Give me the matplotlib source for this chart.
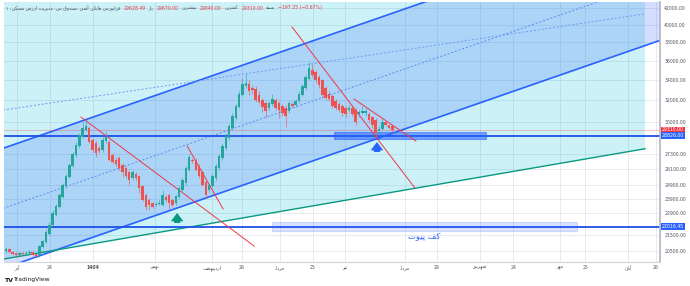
import matplotlib
matplotlib.use('Agg')
import matplotlib.pyplot as plt
from matplotlib.patches import Rectangle
from matplotlib.ticker import NullLocator

# Heikin Ashi candles, one per trading day
opens = [20480, 20600, 20420, 20350, 20230, 20350, 20290, 20350, 20420, 20290,
         20230, 20720, 21030, 21530, 22110, 22780, 23320, 24030, 24820, 25490,
         26340, 27210, 27950, 28700, 29300, 29480, 28450, 28200, 27790, 27620,
         28370, 28280, 27210, 26810, 26970, 26420, 26190, 25870, 25420, 25720,
         25570, 24820, 24170, 23810, 23600, 23460, 23530, 23460, 24030, 24170,
         23810, 23600, 24030, 24530, 25040, 26030, 26810, 26810, 26340, 25870,
         25120, 24530, 24820, 25420, 26190, 26970, 27790, 28620, 29480, 30360,
         31370, 32500, 33380, 33580, 33190, 33090, 32500, 32030, 31750, 31280,
         31650, 32030, 31750, 31470, 31280, 31000, 31650, 31560, 31940, 32500,
         33190, 34080, 35000, 34800, 34290, 33980, 33190, 32600, 32410, 31940,
         31650, 31470, 31280, 31090, 31280, 31090, 30720, 30820, 30820, 30720,
         30450, 30180, 29210, 29390, 30000, 29740, 29628.49]
closes = [20600, 20420, 20290, 20230, 20350, 20290, 20350, 20420, 20230, 20170,
          20780, 21090, 21660, 22110, 22920, 23390, 24170, 24890, 25570, 26420,
          27290, 28030, 28870, 29480, 29650, 28280, 27620, 27370, 27540, 28450,
          28700, 26810, 26650, 26500, 26190, 25870, 25570, 25270, 25870, 25420,
          24680, 23810, 23320, 23460, 23320, 23530, 23600, 24170, 23810, 23600,
          23460, 24100, 24680, 25270, 26190, 27050, 26730, 26030, 25570, 24890,
          24170, 24890, 25570, 26340, 27130, 27950, 28790, 29650, 30540, 31470,
          32600, 33580, 33680, 32890, 32990, 32030, 31840, 31370, 31000, 31750,
          32120, 31280, 31090, 30820, 30540, 31750, 31470, 31940, 32600, 33380,
          34290, 35210, 34490, 33980, 33480, 32500, 32220, 32120, 31470, 31280,
          31090, 30820, 30720, 31280, 30720, 30000, 30910, 31000, 31000, 30180,
          29740, 29040, 29390, 30000, 29740, 29507, 29310]
highs = [20720, 20660, 20480, 20420, 20420, 20420, 20480, 20540, 20480, 20350,
         20840, 21150, 21850, 22310, 23120, 23530, 24310, 25040, 25720, 26580,
         27460, 28280, 29040, 30000, 30270, 29650, 28620, 28370, 27950, 28700,
         29210, 28450, 27370, 27050, 27130, 26580, 26340, 26030, 26030, 25870,
         25640, 24890, 24310, 23960, 23670, 23670, 23810, 24530, 24170, 24310,
         23960, 24170, 24820, 25420, 26340, 27290, 26970, 26970, 26500, 26030,
         25270, 25040, 25720, 26500, 27290, 28200, 29040, 29830, 30820, 31650,
         32890, 34180, 34690, 33980, 33480, 33380, 32890, 32220, 31940, 31940,
         32600, 32220, 31940, 31650, 31560, 31940, 31840, 32120, 32890, 33580,
         34490, 35850, 35640, 35000, 34490, 34080, 33380, 32890, 32600, 32120,
         31840, 31650, 31470, 31560, 31470, 31280, 31090, 31470, 31280, 30910,
         30540, 30360, 29650, 30270, 30090, 29830, 29670]
lows = [20350, 20350, 20230, 20110, 20170, 20230, 20230, 20290, 20170, 20110,
        20110, 20660, 20970, 21470, 22050, 22710, 23260, 23960, 24680, 25420,
        26260, 27050, 27790, 28620, 29210, 28200, 27460, 27050, 27370, 27460,
        28200, 26730, 26500, 26340, 26030, 25490, 25420, 24890, 25270, 25190,
        24310, 23740, 23120, 23120, 23260, 23390, 23460, 23390, 23670, 23190,
        23320, 23460, 23960, 24390, 24890, 25950, 26580, 25950, 25420, 24820,
        23960, 24390, 24750, 25270, 26030, 26810, 27620, 28450, 29300, 30180,
        31280, 32410, 33190, 32500, 32600, 31840, 31650, 30910, 30450, 31090,
        31470, 31090, 30360, 30540, 29570, 30820, 31280, 31370, 31750, 32410,
        32990, 33980, 34290, 33680, 33190, 32220, 32030, 31940, 31280, 31090,
        30910, 30540, 30450, 30910, 30540, 29740, 30450, 30720, 30540, 30000,
        29480, 28700, 29040, 29300, 29650, 29390, 29040]

price_ticks = [42000, 40000, 38000, 36000, 34000, 32000, 30000,
               27300, 26100, 24900, 23900, 22900, 21500, 20500]
date_pos = [3.3, 13.2, 26.1, 44.7, 61.9, 70.9, 82.3, 92.2, 101.8,
            119.8, 129.4, 142.3, 152.3, 166.4, 173.9, 186.8, 195.2]
date_labels = ['آذر', '24', '1404', 'بهمن', 'اردیبهشت', '26', 'خرداد', '25', 'تیر',
               'مرداد', '26', 'شهریور', '24', 'مهر', '25', 'آبان', '26']

last_close = 29310.00
support_level = 28826.00
pivot_level = 22016.45

# drawings anchored on (bar, price)
channel_x = [-2, 200]
channel_up = [27650, 55210]
channel_lo = [19370, 38690]
channel_mid = [23140, 46220]
base_x = [-2, 191.9]
base_line = [19950, 27720]
base_mid = [31030, 41340]
red_lines = [([22.5, 74.5], [30450, 20780]),
             ([54.4, 65.2], [27950, 23190]),
             ([85.9, 122.8], [39760, 24680]),
             ([104.5, 123.1], [32120, 28360])]
zone_box = (98.5, 144.1, 28530, 29130)
pivot_box = (79.9, 171.5, 21720, 22310)
arrows = [(51.4, 22250, 22920, '#089981'), (111.4, 27460, 28280, '#2962ff')]

# Persian letter forms: isolated, final, initial, medial
AR = {'ا': (0xFE8D, 0xFE8E), 'آ': (0xFE81, 0xFE82), 'د': (0xFEA9, 0xFEAA),
      'ذ': (0xFEAB, 0xFEAC), 'ر': (0xFEAD, 0xFEAE), 'ز': (0xFEAF, 0xFEB0),
      'و': (0xFEED, 0xFEEE),
      'ب': (0xFE8F, 0xFE90, 0xFE91, 0xFE92), 'پ': (0xFB56, 0xFB57, 0xFB58, 0xFB59),
      'ت': (0xFE95, 0xFE96, 0xFE97, 0xFE98), 'خ': (0xFEA5, 0xFEA6, 0xFEA7, 0xFEA8),
      'س': (0xFEB1, 0xFEB2, 0xFEB3, 0xFEB4), 'ش': (0xFEB5, 0xFEB6, 0xFEB7, 0xFEB8),
      'ص': (0xFEB9, 0xFEBA, 0xFEBB, 0xFEBC), 'ف': (0xFED1, 0xFED2, 0xFED3, 0xFED4),
      'ق': (0xFED5, 0xFED6, 0xFED7, 0xFED8), 'ک': (0xFB8E, 0xFB8F, 0xFB90, 0xFB91),
      'م': (0xFEE1, 0xFEE2, 0xFEE3, 0xFEE4), 'ن': (0xFEE5, 0xFEE6, 0xFEE7, 0xFEE8),
      'ه': (0xFEE9, 0xFEEA, 0xFEEB, 0xFEEC), 'ی': (0xFBFC, 0xFBFD, 0xFBFE, 0xFBFF)}


def fa(s):
    # shape and reverse Persian words so they read right to left
    if not any(ch in AR for ch in s):
        return s
    out = []
    for i, ch in enumerate(s):
        f = AR.get(ch)
        if f is None:
            out.append(ch)
            continue
        prev = AR.get(s[i - 1]) if i > 0 else None
        nxt = AR.get(s[i + 1]) if i + 1 < len(s) else None
        jp = prev is not None and len(prev) == 4
        jn = nxt is not None and len(f) == 4
        k = 3 if (jp and jn) else 1 if jp else 2 if jn else 0
        out.append(chr(f[k]))
    return ''.join(reversed(out))


plt.rcParams['font.family'] = ['DejaVu Sans']

fig = plt.figure(figsize=(6.9, 2.86), dpi=100)
ax = fig.add_axes([4 / 690, 24 / 286, 656 / 690, 260 / 286])
ax.set_yscale('log')
ax.set_xlim(-0.6, 196.4)
ax.set_ylim(19820, 42816)
ax.set_axisbelow(True)

# background channels
ax.fill_between(base_x, base_line, 60000, color='#00bcd4', alpha=0.2, lw=0, zorder=1)
ax.fill_between(channel_x, channel_lo, channel_up, color='#2962ff', alpha=0.2, lw=0, zorder=1.1)
ax.plot(channel_x, channel_up, color='#2962ff', lw=1.2, zorder=2)
ax.plot(channel_x, channel_lo, color='#2962ff', lw=1.2, zorder=2)
ax.plot(channel_x, channel_mid, color='#5b8af5', lw=0.7, dashes=(2, 2), zorder=2)
ax.plot(base_x, base_line, color='#089981', lw=1.0, zorder=2)
ax.plot(base_x, base_mid, color='#6f9cf5', lw=0.7, dashes=(2, 2), zorder=2)

# levels and zones
ax.axhline(last_close, color='#f23645', lw=0.6, alpha=0.35, zorder=2)
ax.axhline(support_level, color='#1e50e6', lw=1.3, zorder=2)
ax.axhline(pivot_level, color='#1e50e6', lw=1.3, zorder=2)
x0, x1, y0, y1 = zone_box
ax.add_patch(Rectangle((x0, y0), x1 - x0, y1 - y0, fc='#2962ff', ec='#2962ff',
                       alpha=0.55, lw=0.8, zorder=2.5))
x0, x1, y0, y1 = pivot_box
ax.add_patch(Rectangle((x0, y0), x1 - x0, y1 - y0, fc='#2962ff', ec='#2962ff',
                       alpha=0.18, lw=0.8, zorder=2.5))
ax.text((pivot_box[0] + pivot_box[1]) / 2, 21400, fa('کف پیوت'), color='#2962ff',
        fontsize=6, ha='center', va='center', zorder=3)

for xs, ys in red_lines:
    ax.plot(xs, ys, color='#f23645', lw=0.7, zorder=3)

for x, lo, hi, c in arrows:
    ax.annotate('', xy=(x, hi), xytext=(x, lo),
                arrowprops=dict(arrowstyle='simple,head_length=0.6,head_width=0.9,tail_width=0.45',
                                color=c, lw=0, shrinkA=0, shrinkB=0),
                annotation_clip=False, zorder=4)

# candles
bars = list(range(len(closes)))
up = '#26a69a'
down = '#ef5350'
cols = [up if c >= o else down for o, c in zip(opens, closes)]
ax.vlines(bars, lows, highs, colors=cols, lw=0.7, alpha=0.6, zorder=3)
ax.bar(bars, [c - o for o, c in zip(opens, closes)], bottom=opens, width=0.75,
       color=cols, lw=0, zorder=3.5)

# axes styling
for s in ['top', 'left']:
    ax.spines[s].set_visible(False)
ax.spines['right'].set_color('#b2b5be')
ax.spines['right'].set_linewidth(1.2)
ax.spines['bottom'].set_color('#d1d4dc')
ax.spines['bottom'].set_linewidth(0.8)

ax.yaxis.tick_right()
ax.yaxis.set_minor_locator(NullLocator())
ax.set_yticks(price_ticks)
ax.set_yticklabels([f'{v:.2f}' for v in price_ticks])
ax.tick_params(axis='y', length=0, pad=3, labelsize=3.3, labelcolor='#50535e')
ax.set_xticks(date_pos)
ax.set_xticklabels([fa(t) for t in date_labels])
ax.tick_params(axis='x', length=0, pad=2.5, labelsize=3.3, labelcolor='#50535e')
ax.get_xticklabels()[2].set_fontweight('bold')
ax.grid(True, color='#e4e7ee', lw=0.6)

# price tags on the right axis
for v, c in [(last_close, '#f23645'), (support_level, '#2962ff'), (pivot_level, '#2962ff')]:
    ax.text(1.003, v, f'{v:.2f}', transform=ax.get_yaxis_transform(), fontsize=3.3,
            color='white', ha='left', va='center', clip_on=False, zorder=6,
            bbox=dict(boxstyle='square,pad=0.2', fc=c, ec='none'))

# header legend
pieces = [(fa('فرابورس هایکن آشی ،صندوق س. مدیریت ارزش مسکن، ۱'), '#50535e'),
          ('29628.49', '#f23645'), (fa('باز'), '#50535e'),
          ('29670.00', '#f23645'), (fa('بیشترین'), '#50535e'),
          ('29040.00', '#f23645'), (fa('کمترین'), '#50535e'),
          ('29310.00', '#f23645'), (fa('بسته'), '#50535e'),
          ('\u2212197.25 (\u22120.67%)', '#f23645')]
fig.canvas.draw()
r = fig.canvas.get_renderer()
xp = 6
for txt, c in pieces:
    t = fig.text(xp / 690, 1 - 8 / 286, txt, fontsize=3.3, color=c, va='center', ha='left')
    xp = t.get_window_extent(r).x1 + 3

fig.text(4 / 690, 1 - 280 / 286, 'TV', fontsize=4.5, weight='bold', color='#131722', va='center')
fig.text(13 / 690, 1 - 280 / 286, 'TradingView', fontsize=4.3, color='#131722', va='center')

fig.savefig('out.png', dpi=100)
